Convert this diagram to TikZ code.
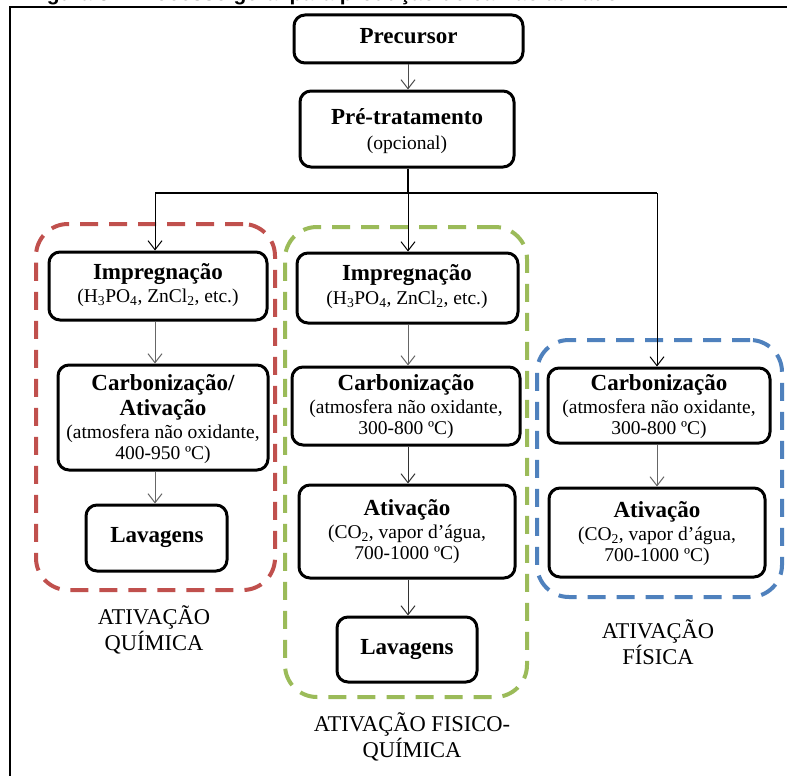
\documentclass[tikz,border=0pt]{standalone}
\usepackage{fontspec}
\setmainfont{Liberation Serif}
\newfontfamily\capfont{Liberation Sans}
\usetikzlibrary{arrows.meta}
\definecolor{cred}{HTML}{C0504D}
\definecolor{cgreen}{HTML}{9BBB59}
\definecolor{cblue}{HTML}{4F81BD}
\begin{document}
\begin{tikzpicture}[x=1pt,y=-1pt,
  box/.style={draw=black, line width=3pt, rounded corners=11pt, inner sep=0pt},
  grp/.style={line width=4pt, dash pattern=on 18pt off 11pt, rounded corners=32pt, inner sep=0pt},
  ttl/.style={anchor=mid, inner sep=0pt, font=\fontsize{23}{25}\selectfont\bfseries},
  sub/.style={anchor=mid, inner sep=0pt, font=\fontsize{19.5}{21}\selectfont},
  lbl/.style={align=center, inner sep=0pt, font=\fontsize{22.5}{26}\selectfont},
  arr/.style={draw=black!60, line width=1pt, -{Straight Barb[length=9pt,width=14pt]}},
  branch/.style={draw=black, line width=1.3pt}
]
\useasboundingbox (0,0) rectangle (787,776);
\fill[white] (0,0) rectangle (787,776);
% caption (cut off at the top in the reference)
\begin{scope}
\clip (0,0) rectangle (787,776);
\node[anchor=base west, inner sep=0pt, font=\capfont\bfseries\fontsize{21}{21}\selectfont] (cap) at (28,0.5) {Figura 3 – Processo geral para produção de carvão ativado};
\end{scope}
% frame
\draw[line width=2pt] (9.5,776) -- (9.5,7) -- (787,7);

% group containers
\node[grp, draw=cred, minimum width=239pt, minimum height=366pt] (grpL) at (155.5,407) {};
\node[grp, draw=cgreen, minimum width=242pt, minimum height=470pt] (grpM) at (406,462) {};
\node[grp, draw=cblue, minimum width=245pt, minimum height=257pt] (grpR) at (659.5,468.5) {};

% boxes
\node[box, minimum width=229pt, minimum height=48pt] (pre) at (408.5,39) {};
\node[box, minimum width=214pt, minimum height=76pt] (pt) at (407,129) {};
\node[box, minimum width=218pt, minimum height=68pt] (impL) at (158,286) {};
\node[box, minimum width=210pt, minimum height=105pt] (carbL) at (163,417.5) {};
\node[box, minimum width=141pt, minimum height=66pt] (lavL) at (156.5,538) {};
\node[box, minimum width=221pt, minimum height=70pt] (impM) at (407.5,288) {};
\node[box, minimum width=228pt, minimum height=78pt] (carbM) at (406,406) {};
\node[box, minimum width=216pt, minimum height=93pt] (atvM) at (407,531.5) {};
\node[box, minimum width=140pt, minimum height=65pt] (lavM) at (407,649.5) {};
\node[box, minimum width=222pt, minimum height=75pt] (carbR) at (659,405.5) {};
\node[box, minimum width=216pt, minimum height=89pt] (atvR) at (657,532.5) {};

% texts
\node[ttl] (preT) at (408.5,41) {Precursor};
\node[ttl] (ptT) at (407,122) {Pré-tratamento};
\node[sub] (ptS) at (407,147) {(opcional)};

\node[ttl] (impLT) at (158,277) {Impregnação};
\node[sub] (impLS) at (158,300) {(H\textsubscript{3}PO\textsubscript{4}, ZnCl\textsubscript{2}, etc.)};
\node[ttl] (carbLT1) at (163,388) {Carbonização/};
\node[ttl] (carbLT2) at (163,413) {Ativação};
\node[sub] (carbLS1) at (163,436) {(atmosfera não oxidante,};
\node[sub] (carbLS2) at (163,457) {400-950 ºC)};
\node[ttl] (lavLT) at (157,540) {Lavagens};

\node[ttl] (impMT) at (407,278) {Impregnação};
\node[sub] (impMS) at (407,302) {(H\textsubscript{3}PO\textsubscript{4}, ZnCl\textsubscript{2}, etc.)};
\node[ttl] (carbMT) at (406,388) {Carbonização};
\node[sub] (carbMS1) at (406,411) {(atmosfera não oxidante,};
\node[sub] (carbMS2) at (406,432) {300-800 ºC)};
\node[ttl] (atvMT) at (407,513) {Ativação};
\node[sub] (atvMS1) at (407,536) {(CO\textsubscript{2}, vapor d’água,};
\node[sub] (atvMS2) at (407,557) {700-1000 ºC)};
\node[ttl] (lavMT) at (407,652) {Lavagens};

\node[ttl] (carbRT) at (659,388) {Carbonização};
\node[sub] (carbRS1) at (659,411) {(atmosfera não oxidante,};
\node[sub] (carbRS2) at (659,432) {300-800 ºC)};
\node[ttl] (atvRT) at (657,515) {Ativação};
\node[sub] (atvRS1) at (657,538) {(CO\textsubscript{2}, vapor d’água,};
\node[sub] (atvRS2) at (657,559) {700-1000 ºC)};

% group labels
\node[lbl] (labL) at (154,630) {ATIVAÇÃO\\QUÍMICA};
\node[lbl] (labR) at (658,642) {ATIVAÇÃO\\FÍSICA};
\node[lbl] (labM) at (412,737) {ATIVAÇÃO FISICO-\\QUÍMICA};

% connectors
\coordinate (bL) at (155,193);
\coordinate (bM) at (408,193);
\coordinate (bR) at (657,193);
\draw[arr, draw=black!70, dash pattern=on 1.2pt off 0.8pt] (pre.south -| bM) -- (pt.north -| bM);
\draw[branch] (pt.south -| bM) -- (bM);
\draw[branch] (bL) -- (bR);
\draw[arr, draw=black] (bL) -- (impL.north -| bL);
\draw[arr, draw=black] (bM) -- (impM.north -| bM);
\draw[arr, draw=black] (bR) -- (carbR.north -| bR);
\draw[arr] (impL.south -| bL) -- (carbL.north -| bL);
\draw[arr] (carbL.south -| bL) -- (lavL.north -| bL);
\draw[arr] (impM.south -| bM) -- (carbM.north -| bM);
\draw[arr, draw=black!80] (carbM.south -| bM) -- (atvM.north -| bM);
\draw[arr, draw=black!80] (atvM.south -| bM) -- (lavM.north -| bM);
\draw[arr] (carbR.south -| bR) -- (atvR.north -| bR);
\end{tikzpicture}
\end{document}
